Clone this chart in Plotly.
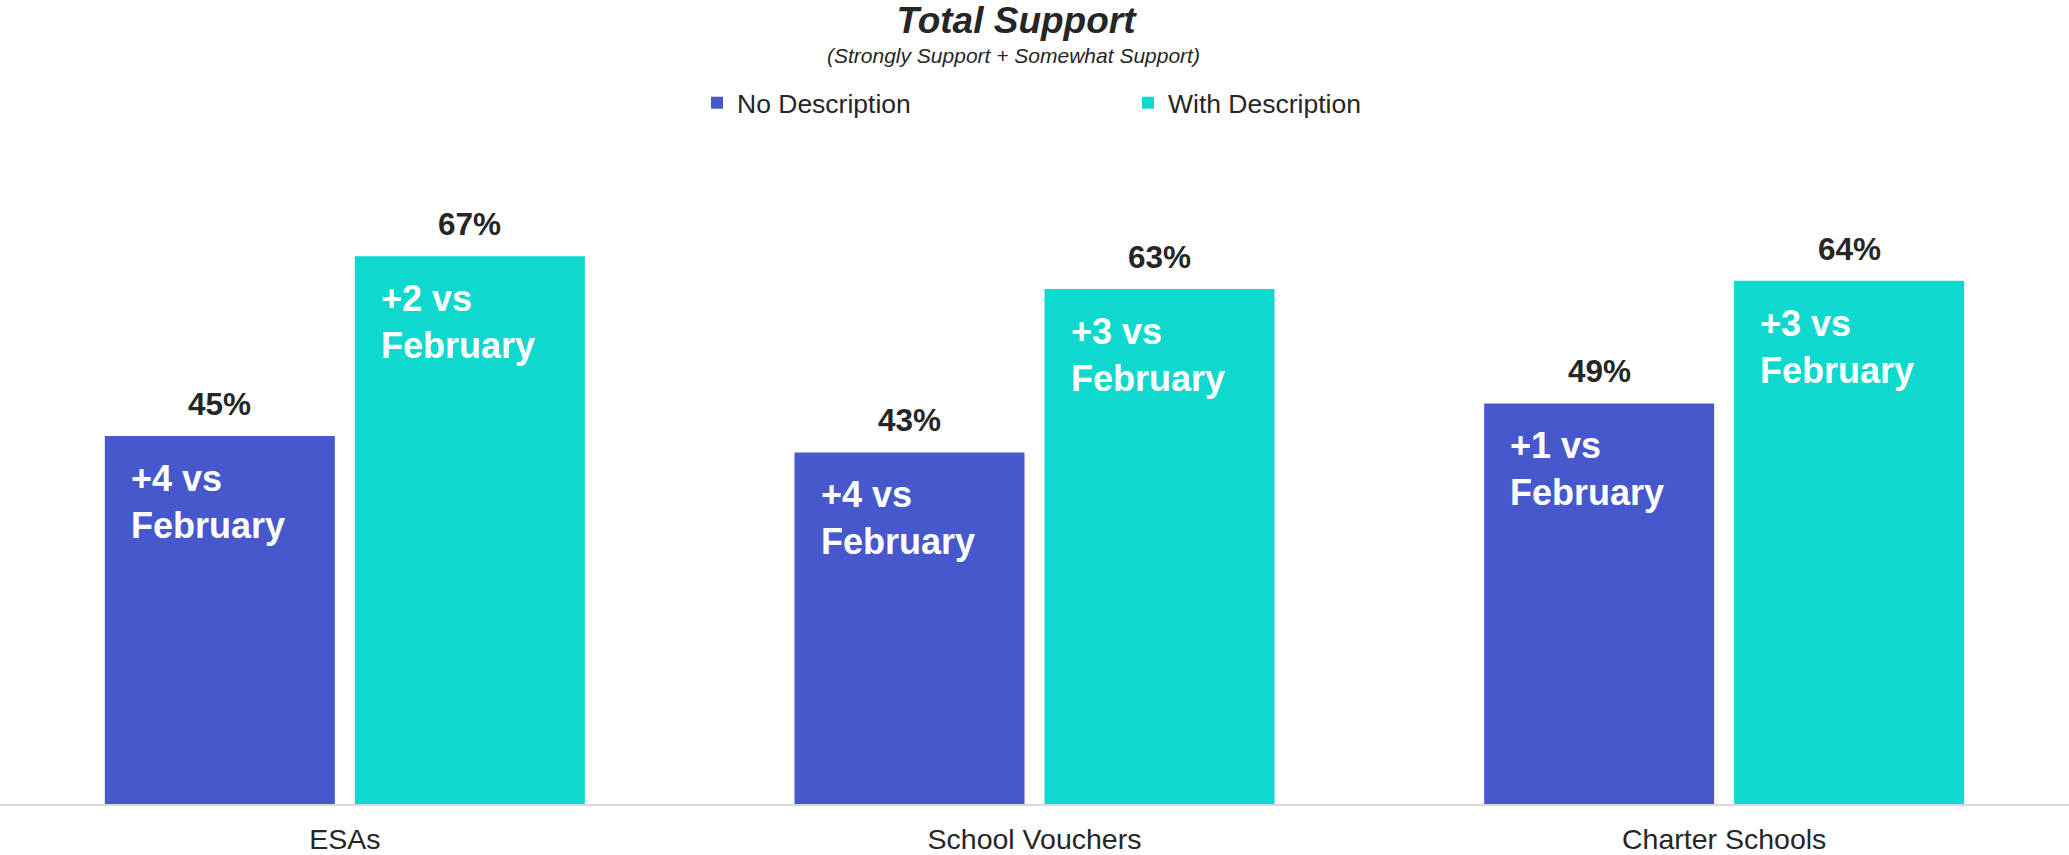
import plotly.graph_objects as go

# Survey results: total support (strongly + somewhat), by policy
categories = ["ESAs", "School Vouchers", "Charter Schools"]
no_description = [45, 43, 49]
with_description = [67, 63, 64]
change_no_desc = [4, 4, 1]      # points vs February
change_with_desc = [2, 3, 3]

BLUE = "#4758CC"
TEAL = "#0FD8CE"
DARK = "#262626"
FONT = "Arial, Liberation Sans, sans-serif"

W, H = 2069, 855
M_TOP, M_BOT = 125, 51
PX_PER_PCT = 8.2
Y_MAX = (H - M_TOP - M_BOT) / PX_PER_PCT

BARGAP = 0.275
BARGROUPGAP = 0.08
slot = (1 - BARGAP) / 2                 # width of each trace slot (category units)
bar_pad = slot * BARGROUPGAP / 2        # inset of bar inside its slot

fig = go.Figure()
fig.add_trace(go.Bar(name="No Description", x=categories, y=no_description,
                     marker=dict(color=BLUE, line=dict(width=0))))
fig.add_trace(go.Bar(name="With Description", x=categories, y=with_description,
                     marker=dict(color=TEAL, line=dict(width=0))))

annotations = []
series = [(no_description, change_no_desc, -1), (with_description, change_with_desc, 1)]
for values, changes, side in series:
    for i, (v, ch) in enumerate(zip(values, changes)):
        center = i + side * slot / 2
        left = center - slot / 2 + bar_pad
        # value above the bar
        annotations.append(dict(
            x=center, y=v, xref="x", yref="y", text=f"<b>{v}%</b>",
            showarrow=False, xanchor="center", yanchor="bottom", yshift=12,
            font=dict(family=FONT, size=31.5, color=DARK)))
        # change callout inside the bar
        annotations.append(dict(
            x=left, y=v, xref="x", yref="y", text=f"<b>+{ch} vs<br>February</b>",
            showarrow=False, xanchor="left", yanchor="top", align="left",
            xshift=24, yshift=-20,
            font=dict(family=FONT, size=36, color="white")))

annotations.append(dict(
    x=1013 / W, y=1, xref="paper", yref="paper", yshift=72,
    text="<i>(Strongly Support + Somewhat Support)</i>", showarrow=False,
    xanchor="center", yanchor="middle",
    font=dict(family=FONT, size=21, color=DARK)))

fig.update_layout(
    width=W, height=H,
    margin=dict(l=0, r=0, t=M_TOP, b=M_BOT),
    paper_bgcolor="white", plot_bgcolor="white",
    barmode="group", bargap=BARGAP, bargroupgap=BARGROUPGAP,
    title=dict(text="<b><i>Total Support</i></b>", x=1016 / W, xanchor="center",
               y=1 - 20 / H, yanchor="middle", yref="container",
               font=dict(family=FONT, size=37, color=DARK)),
    legend=dict(orientation="h", x=697 / W, xanchor="left",
                y=1 - 103 / H, yanchor="middle", yref="container",
                entrywidth=386, entrywidthmode="pixels",
                font=dict(family=FONT, size=26.5, color=DARK),
                bgcolor="rgba(0,0,0,0)"),
    xaxis=dict(showline=True, linecolor="#D9D9D9", linewidth=2, ticks="",
               showgrid=False, zeroline=False, ticklabelstandoff=9,
               tickfont=dict(family=FONT, size=28.5, color=DARK)),
    yaxis=dict(range=[0, Y_MAX], visible=False, showgrid=False, zeroline=False),
    annotations=annotations,
    showlegend=True,
)

fig.write_html("out.html")
